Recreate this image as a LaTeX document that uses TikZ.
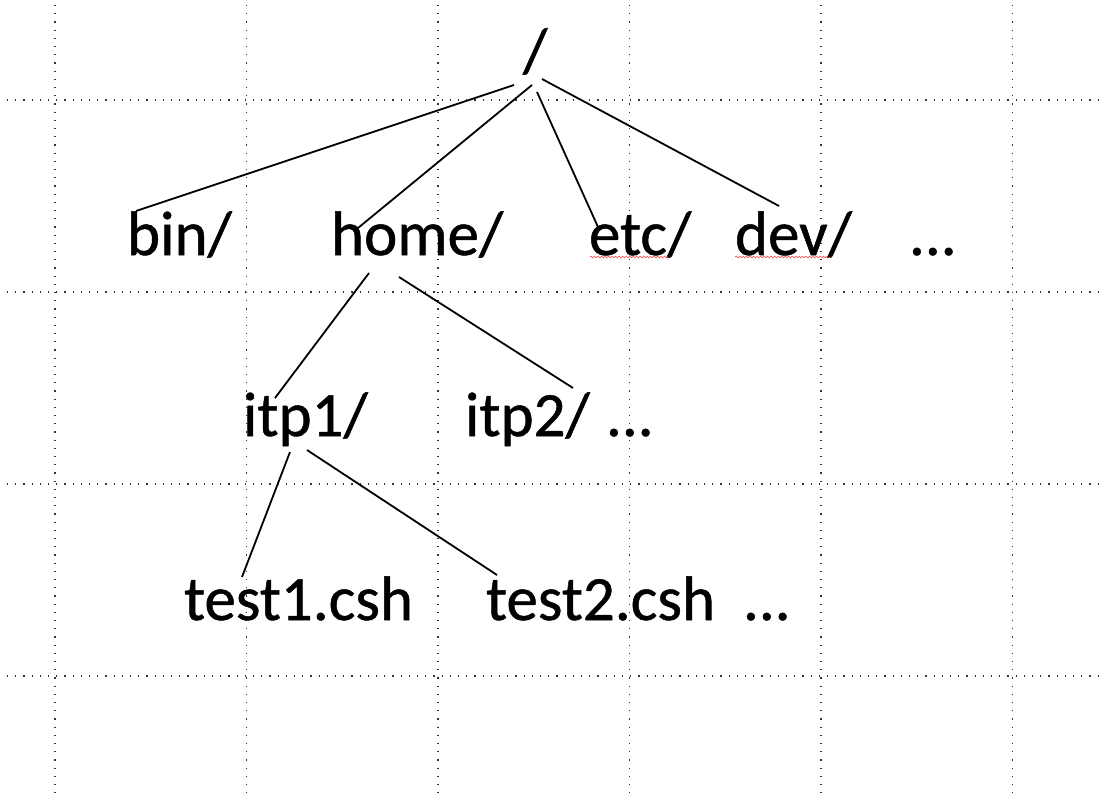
\documentclass[tikz,border=0pt]{standalone}
\usepackage{fontspec}
\setmainfont{Carlito}
\newfontfamily\lblfont{Carlito}[FakeBold=0.8]
\usetikzlibrary{decorations.pathmorphing}
\tikzset{
  lbl/.style={inner sep=0pt, outer sep=0pt, anchor=base west, font=\lblfont\fontsize{63}{70}\selectfont},
  link/.style={line width=1.8pt, black},
  gridline/.style={line width=1.1pt, black!80, dash pattern=on 1.1pt off 7.1pt},
  squiggle/.style={red!75, line width=0.6pt, decorate, decoration={snake, segment length=3.5pt, amplitude=0.9pt}}
}
\begin{document}
\begin{tikzpicture}[x=1pt, y=-1pt]
\useasboundingbox (0,0) rectangle (1101,798);
% dotted grid
\foreach \gy in {100,292,484,676} \draw[gridline] (7,\gy) -- (1101,\gy);
\foreach \gx in {55,246.5,438,629.5,821,1012.5} \draw[gridline] (\gx,5) -- (\gx,798);
% nodes
\node[lbl] (root) at (523,72) {/};
\node[lbl] (bin) at (127,255) {bin/};
\node[lbl] (home) at (331,255) {home/};
\node[lbl] (etc) at (589,255) {etc/};
\node[lbl] (dev) at (735,255) {dev/};
\node[lbl] (more1) at (909,255) {...};
\node[lbl] (itp1) at (243,436) {itp1/};
\node[lbl] (itp2) at (465,436) {itp2/};
\node[lbl] (more2) at (606,436) {...};
\node[lbl] (test1) at (184,620) {test1.csh};
\node[lbl] (test2) at (486,620) {test2.csh};
\node[lbl] (more3) at (743,620) {...};
% spell-check underlines
\draw[squiggle] ([shift={(1,2)}]etc.base west) -- ([shift={(79,2)}]etc.base west);
\draw[squiggle] ([shift={(0,2)}]dev.base west) -- ([shift={(95,2)}]dev.base west);
% connectors
\draw[link] ([shift={(-9,13)}]root.base west) -- ([shift={(9,-44)}]bin.base west);
\draw[link] ([shift={(9,13)}]root.base west) -- ([shift={(27,-27)}]home.base west);
\draw[link] ([shift={(14,20)}]root.base west) -- ([shift={(9,-28)}]etc.base west);
\draw[link] ([shift={(19,7)}]root.base west) -- ([shift={(44,-49)}]dev.base west);
\draw[link] ([shift={(38,18)}]home.base west) -- ([shift={(32,-38)}]itp1.base west);
\draw[link] ([shift={(68,22)}]home.base west) -- ([shift={(108,-48)}]itp2.base west);
\draw[link] ([shift={(47,16)}]itp1.base west) -- ([shift={(58,-43)}]test1.base west);
\draw[link] ([shift={(64,14)}]itp1.base west) -- ([shift={(11,-45)}]test2.base west);
\end{tikzpicture}
\end{document}
